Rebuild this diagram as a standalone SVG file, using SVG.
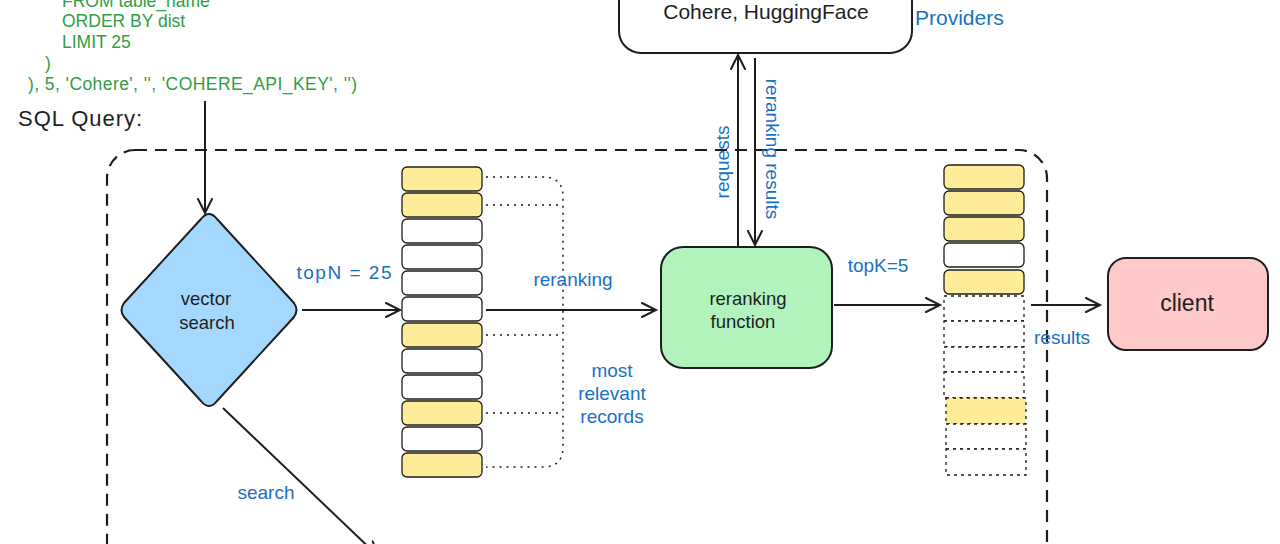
<svg xmlns="http://www.w3.org/2000/svg" width="1280" height="544" viewBox="0 0 1280 544">
<defs>
<style>
text{font-family:"Liberation Sans","Noto Sans",sans-serif;}
.code{fill:#2f9e44;font-size:17.5px;}
.lbl{fill:#1971c2;font-size:19px;}
.nt{fill:#1e1e1e;font-size:18.5px;text-anchor:middle;dominant-baseline:central;}
.ln{stroke:#1e1e1e;stroke-width:2;fill:none;}
.row{stroke:#1e1e1e;stroke-width:1.3;}
.y{fill:#ffec99;}
.w{fill:#ffffff;}
.dr{stroke:#1e1e1e;stroke-width:1.3;stroke-dasharray:3 4;fill:#ffffff;}
.dot{stroke:#1e1e1e;stroke-width:1.5;stroke-dasharray:2 5;fill:none;}
</style>
<marker id="ah" markerUnits="userSpaceOnUse" markerWidth="20" markerHeight="20" refX="15" refY="8" orient="auto">
<path d="M1,1 L15,8 L1,15" fill="none" stroke="#1e1e1e" stroke-width="2" stroke-linecap="round"/>
</marker>
</defs>
<rect width="1280" height="544" fill="#ffffff"/>

<g id="container">
<rect x="107" y="150" width="940" height="460" rx="28" fill="none" stroke="#1e1e1e" stroke-width="2.2" stroke-dasharray="12 8"/>
</g>

<g id="sql-code">
<text class="code" x="62" y="7">FROM table_name</text>
<text class="code" x="62" y="27">ORDER BY dist</text>
<text class="code" x="62" y="48">LIMIT 25</text>
<text class="code" x="45" y="69">)</text>
<text class="code" x="28" y="90" textLength="329" lengthAdjust="spacing">), 5, 'Cohere', '', 'COHERE_API_KEY', '')</text>
<text x="18" y="126" style="font-size:22px;fill:#1e1e1e" textLength="124" lengthAdjust="spacing">SQL Query:</text>
</g>

<g id="connectors">
<line class="ln" x1="205" y1="101" x2="205" y2="213" marker-end="url(#ah)"/>
<line class="ln" x1="302" y1="310" x2="400" y2="310" marker-end="url(#ah)"/>
<line class="ln" x1="486" y1="310" x2="656" y2="310" marker-end="url(#ah)"/>
<line class="ln" x1="834" y1="305" x2="940" y2="305" marker-end="url(#ah)"/>
<line class="ln" x1="1031" y1="305" x2="1100" y2="305" marker-end="url(#ah)"/>
<line class="ln" x1="738" y1="247" x2="738" y2="55" marker-end="url(#ah)"/>
<line class="ln" x1="755" y1="58" x2="755" y2="245" marker-end="url(#ah)"/>
<line class="ln" x1="223" y1="408" x2="378" y2="556" marker-end="url(#ah)"/>
<path class="dot" d="M486,177 L543,177 Q563,177 563,197 L563,447 Q563,467 543,467 L486,467"/>
<line class="dot" x1="486" y1="205" x2="563" y2="205"/>
<line class="dot" x1="486" y1="335" x2="563" y2="335"/>
<line class="dot" x1="486" y1="413" x2="563" y2="413"/>
<text class="lbl" x="344" y="279" text-anchor="middle" textLength="95" lengthAdjust="spacing">topN = 25</text>
<text class="lbl" x="573" y="286" text-anchor="middle">reranking</text>
<text class="lbl" x="612" y="377" text-anchor="middle">most</text>
<text class="lbl" x="612" y="400" text-anchor="middle">relevant</text>
<text class="lbl" x="612" y="423" text-anchor="middle">records</text>
<text class="lbl" x="878" y="272" text-anchor="middle">topK=5</text>
<text class="lbl" x="1062" y="344" text-anchor="middle">results</text>
<text class="lbl" x="266" y="499" text-anchor="middle">search</text>
<text class="lbl" transform="translate(722,162) rotate(-90)" text-anchor="middle" dominant-baseline="central">requests</text>
<text class="lbl" transform="translate(772,149) rotate(90)" text-anchor="middle" dominant-baseline="central">reranking results</text>
<text class="lbl" x="915" y="25" style="font-size:21px">Providers</text>
</g>

<g id="providers">
<rect x="619" y="-40" width="293" height="93" rx="22" fill="#ffffff" stroke="#1e1e1e" stroke-width="2"/>
<text class="nt" x="766" y="11" style="font-size:21px">Cohere, HuggingFace</text>
</g>

<g id="vector-search">
<path d="M209,214 Q213,214 217,219 L294,303 Q299,310 294,317 L217,401 Q213,406 209,406 Q205,406 201,401 L124,317 Q119,310 124,303 L201,219 Q205,214 209,214 Z" fill="#a5d8ff" stroke="#1e1e1e" stroke-width="2"/>
<text class="nt" x="206" y="298">vector</text>
<text class="nt" x="207" y="322">search</text>
</g>

<g id="topN-list">
<rect class="row y" x="402" y="167" width="80" height="24" rx="5"/>
<rect class="row y" x="402" y="193" width="80" height="24" rx="5"/>
<rect class="row w" x="402" y="219" width="80" height="24" rx="5"/>
<rect class="row w" x="402" y="245" width="80" height="24" rx="5"/>
<rect class="row w" x="402" y="271" width="80" height="24" rx="5"/>
<rect class="row w" x="402" y="297" width="80" height="24" rx="5"/>
<rect class="row y" x="402" y="323" width="80" height="24" rx="5"/>
<rect class="row w" x="402" y="349" width="80" height="24" rx="5"/>
<rect class="row w" x="402" y="375" width="80" height="24" rx="5"/>
<rect class="row y" x="402" y="401" width="80" height="24" rx="5"/>
<rect class="row w" x="402" y="427" width="80" height="24" rx="5"/>
<rect class="row y" x="402" y="453" width="80" height="24" rx="5"/>
</g>

<g id="reranking-function">
<rect x="661" y="247" width="171" height="121" rx="22" fill="#b2f2bb" stroke="#1e1e1e" stroke-width="2"/>
<text class="nt" x="748" y="298">reranking</text>
<text class="nt" x="743" y="321">function</text>
</g>

<g id="topK-list">
<rect class="dr" x="944" y="296" width="80" height="25"/>
<rect class="dr" x="944" y="321" width="80" height="26"/>
<rect class="dr" x="944" y="347" width="80" height="25"/>
<rect class="dr" x="944" y="372" width="80" height="26"/>
<rect class="dr" x="946" y="398" width="80" height="26" style="fill:#ffec99"/>
<rect class="dr" x="946" y="424" width="80" height="25"/>
<rect class="dr" x="946" y="449" width="80" height="26"/>
<rect class="row y" x="944" y="165" width="80" height="24" rx="5"/>
<rect class="row y" x="944" y="191" width="80" height="24" rx="5"/>
<rect class="row y" x="944" y="217" width="80" height="24" rx="5"/>
<rect class="row w" x="944" y="243" width="80" height="24" rx="5"/>
<rect class="row y" x="944" y="270" width="80" height="24" rx="5"/>
</g>

<g id="client">
<rect x="1108" y="258" width="160" height="92" rx="18" fill="#ffc9c9" stroke="#1e1e1e" stroke-width="2"/>
<text class="nt" x="1187" y="303" style="font-size:23px">client</text>
</g>
</svg>
